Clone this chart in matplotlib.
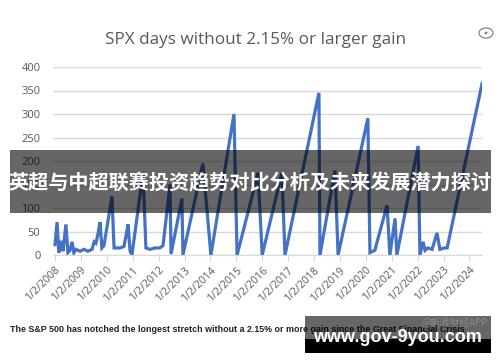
import matplotlib
matplotlib.use("Agg")
import matplotlib.pyplot as plt
from matplotlib.patches import Rectangle, Circle, FancyArrowPatch

# ---- data (decimal year, days without a 2.15%+ gain) ----
years = [2008.00, 2008.08, 2008.15, 2008.23, 2008.31, 2008.42, 2008.50, 2008.58,
         2008.66, 2008.73, 2008.81, 2008.97, 2009.12, 2009.27, 2009.43, 2009.51,
         2009.58, 2009.66, 2009.74, 2009.81, 2009.89, 2010.20, 2010.28, 2010.51,
         2010.66, 2010.74, 2010.82, 2010.90, 2010.97, 2011.40, 2011.51, 2011.67,
         2011.86, 2012.05, 2012.17, 2012.44, 2012.48, 2012.90, 2012.94, 2013.71,
         2014.02, 2014.91, 2015.03, 2015.84, 2016.00, 2016.76, 2016.88, 2018.19,
         2018.23, 2018.81, 2018.93, 2020.08, 2020.16, 2020.35, 2020.82, 2020.93,
         2021.13, 2021.20, 2022.02, 2022.09, 2022.21, 2022.29, 2022.40, 2022.56,
         2022.75, 2022.86, 2023.02, 2023.14, 2024.49]
days = [22, 70, 5, 30, 8, 65, 5, 10,
        28, 5, 12, 8, 12, 8, 12, 28,
        25, 45, 70, 15, 20, 125, 15, 15,
        18, 40, 65, 8, 0, 175, 15, 12,
        15, 15, 20, 150, 2, 120, 0, 195,
        0, 300, 0, 175, 0, 175, 0, 345,
        0, 180, 0, 291, 5, 10, 106, 0,
        78, 0, 232, 0, 28, 10, 15, 12,
        47, 12, 15, 15, 365]

tick_years = list(range(2008, 2025))
tick_labels = [f"1/2/{y}" for y in tick_years]
y_ticks = [0, 50, 100, 150, 200, 250, 300, 350, 400]

title = "SPX days without 2.15% or larger gain"
caption = ("The S&P 500 has notched the longest stretch without a 2.15% or more "
           "gain since the Great Financial Crisis")
banner = "英超与中超联赛投资趋势对比分析及未来发展潜力探讨"
watermark = "www.gov-9you.com"

# ---- figure ----
W, H = 500, 362
fig = plt.figure(figsize=(W / 100, H / 100), dpi=100)
fig.patch.set_facecolor("white")

def fx(px):
    return px / W

def fy(py):
    return 1 - py / H

ax = fig.add_axes([fx(53), fy(255), fx(482) - fx(53), fy(67) - fy(255)])
ax.plot(years, days, color="#4472C4", lw=2.3, solid_joinstyle="miter", zorder=3)

x0 = 2008 - 2 / 25.9
ax.set_xlim(x0, x0 + 429 / 25.9)
ax.set_ylim(0, 400)
ax.set_yticks(y_ticks)
ax.set_yticklabels([str(v) for v in y_ticks], fontsize=8, color="#595959",
                   family="Open Sans")
ax.set_xticks(tick_years)
ax.set_xticklabels(tick_labels, rotation=45, ha="right", rotation_mode="anchor",
                   fontsize=7.7, color="#595959", family="Open Sans")
ax.tick_params(axis="y", length=0, pad=9)
ax.tick_params(axis="x", length=4, color="#d9d9d9", pad=3)
ax.grid(axis="y", color="#d9d9d9", lw=1)
ax.set_axisbelow(True)
for s in ["top", "right", "left"]:
    ax.spines[s].set_visible(False)
ax.spines["bottom"].set_color("#d9d9d9")

fig.text(fx(256), fy(40), title, ha="center", va="center", fontsize=12.3,
         color="#595959", family="Open Sans")

# expand icon
fig.patches.append(Circle((fx(486), fy(33)), 0.014, transform=fig.transFigure,
                          fill=False, ec="#777777", lw=0.8))
fig.patches.append(FancyArrowPatch((fx(482.5), fy(36.5)), (fx(489.5), fy(29.5)),
                                   transform=fig.transFigure, arrowstyle="<|-|>",
                                   mutation_scale=3, color="#777777", lw=0.6))

# banner overlay
fig.patches.append(Rectangle((fx(10), fy(213)), fx(491) - fx(10), fy(150) - fy(213),
                             transform=fig.transFigure, color="black", alpha=0.6,
                             zorder=4, lw=0))
fig.text(fx(250), fy(183), banner, ha="center", va="center", fontsize=14.5,
         color="white", weight="bold",
         family=["Noto Sans CJK SC", "DejaVu Sans"], zorder=5)

# caption
fig.text(fx(10), fy(330), caption, ha="left", va="center", fontsize=6.4,
         color="#222222", weight="bold", family="Liberation Sans", zorder=3)

# watermark box
fig.patches.append(Rectangle((fx(305), fy(339)), fx(491) - fx(305), fy(316) - fy(339),
                             transform=fig.transFigure, color="black", alpha=0.6,
                             zorder=4, lw=0))
fig.patches.append(Rectangle((fx(305), fy(353)), fx(491) - fx(305), fy(339) - fy(353),
                             transform=fig.transFigure, color="black",
                             zorder=4, lw=0))
fig.text(fx(488), fy(323), "@新浪财经APP", ha="right", va="center", fontsize=7,
         color="#8a8a8a", family=["Noto Sans CJK SC", "DejaVu Sans"], zorder=5)
fig.text(fx(397), fy(337), watermark, ha="center", va="center", fontsize=13,
         color="white", weight="bold", family="Liberation Sans", zorder=6)

fig.savefig("out.png", dpi=100)
